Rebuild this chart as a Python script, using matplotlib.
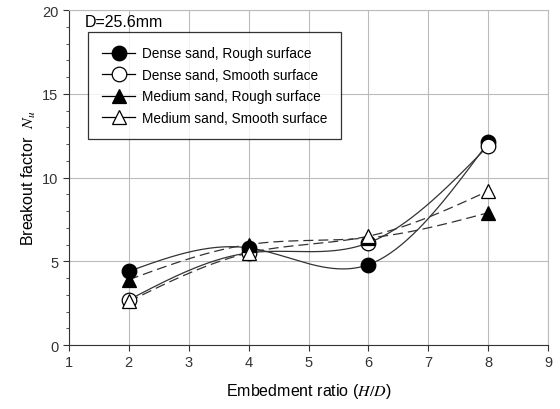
import numpy as np
import matplotlib.pyplot as plt
from matplotlib.ticker import MultipleLocator

plt.rcParams['font.family'] = ['Liberation Sans', 'DejaVu Sans']

# data
ratio = [2, 4, 6, 8]
dense_rough = [4.4, 5.8, 4.8, 12.1]
dense_smooth = [2.7, 5.5, 6.1, 11.9]
medium_rough = [3.9, 6.0, 6.4, 7.9]
medium_smooth = [2.6, 5.5, 6.5, 9.2]


def spline(x, y, n=200):
    # natural cubic spline, just for the smooth connecting line
    x = np.asarray(x, float)
    y = np.asarray(y, float)
    m = len(x)
    h = np.diff(x)
    A = np.zeros((m, m))
    b = np.zeros(m)
    A[0, 0] = A[-1, -1] = 1
    for i in range(1, m - 1):
        A[i, i - 1] = h[i - 1]
        A[i, i] = 2 * (h[i - 1] + h[i])
        A[i, i + 1] = h[i]
        b[i] = 6 * ((y[i + 1] - y[i]) / h[i] - (y[i] - y[i - 1]) / h[i - 1])
    M = np.linalg.solve(A, b)
    xs = np.linspace(x[0], x[-1], n)
    idx = np.clip(np.searchsorted(x, xs) - 1, 0, m - 2)
    x0, x1 = x[idx], x[idx + 1]
    hh = x1 - x0
    ys = (M[idx] * (x1 - xs) ** 3 / (6 * hh) + M[idx + 1] * (xs - x0) ** 3 / (6 * hh)
          + (y[idx] / hh - M[idx] * hh / 6) * (x1 - xs)
          + (y[idx + 1] / hh - M[idx + 1] * hh / 6) * (xs - x0))
    return xs, ys


fig = plt.figure(figsize=(5.6, 4.1), dpi=100)
ax = fig.add_axes([0.123, 0.156, 0.856, 0.817])

series = [
    (dense_rough, 'o', 'black', '-', 'Dense sand, Rough surface'),
    (dense_smooth, 'o', 'white', '-', 'Dense sand, Smooth surface'),
    (medium_rough, '^', 'black', (0, (8, 4)), 'Medium sand, Rough surface'),
    (medium_smooth, '^', 'white', (0, (8, 4)), 'Medium sand, Smooth surface'),
]

for vals, mk, fc, ls, lab in series:
    xs, ys = spline(ratio, vals)
    ax.plot(xs, ys, color='#333333', lw=0.9, ls=ls, zorder=2)
    ax.plot(ratio, vals, ls='none', marker=mk, ms=10.5, mfc=fc, mec='black',
            mew=0.9, zorder=3)
    ax.plot([], [], color='black', lw=0.9, marker=mk, ms=10.5, mfc=fc,
            mec='black', mew=0.9, label=lab)

ax.set_xlim(1, 9)
ax.set_ylim(0, 20)
ax.xaxis.set_major_locator(MultipleLocator(1))
ax.yaxis.set_major_locator(MultipleLocator(5))
ax.yaxis.set_minor_locator(MultipleLocator(1))
ax.tick_params(direction='out', labelsize=10.5, colors='#333333', length=4)
ax.tick_params(which='minor', direction='out', length=2.5, color='#333333')
ax.grid(True, which='major', color='#bbbbbb', lw=0.8)
ax.set_axisbelow(True)
for s in ['top', 'right']:
    ax.spines[s].set_color('#bbbbbb')
for s in ['left', 'bottom']:
    ax.spines[s].set_color('#333333')

ax.set_xlabel('Embedment ratio ($\\mathit{H/D}$)', fontsize=11.5, labelpad=8)
ax.set_ylabel('Breakout factor  $\\mathit{N_u}$', fontsize=11.5, labelpad=3)
ax.xaxis.label.set_math_fontfamily('stix')
ax.yaxis.label.set_math_fontfamily('stix')

ax.text(1.27, 19.3, 'D=25.6mm', fontsize=11.5, va='center', ha='left')
leg = ax.legend(loc='upper left', bbox_to_anchor=(0.04, 0.934), fontsize=9.8,
                frameon=True, fancybox=False, edgecolor='black',
                handlelength=2.4, borderpad=1.05, labelspacing=0.55,
                handletextpad=0.5, borderaxespad=0)
leg.get_frame().set_linewidth(0.9)

fig.savefig('out.png', dpi=100)
